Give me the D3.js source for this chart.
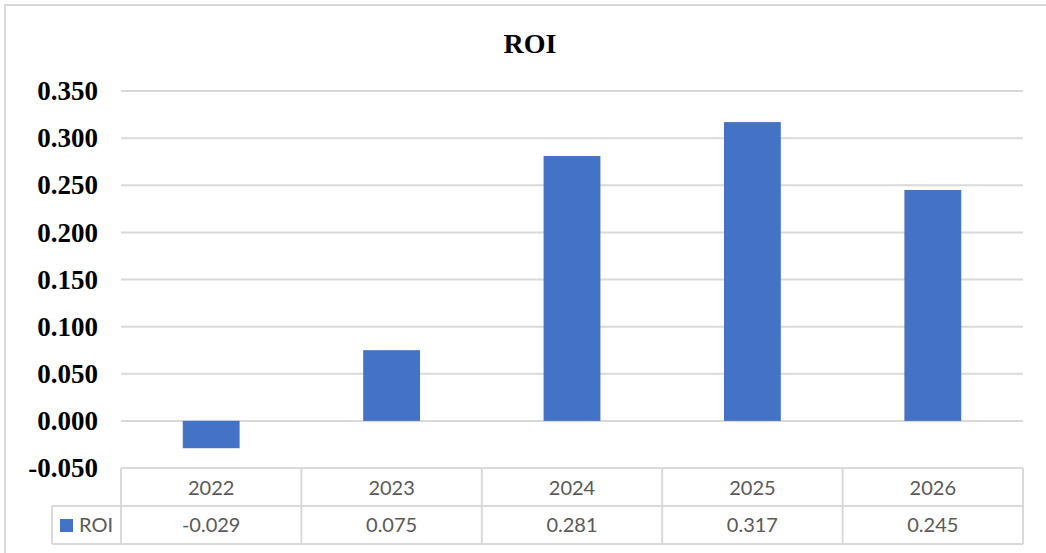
<!DOCTYPE html>
<html>
<head>
<meta charset="utf-8">
<script src="https://cdn.jsdelivr.net/npm/d3@7"></script>
<style>
  body { margin: 0; background: #fff; }
  svg { display: block; }
</style>
</head>
<body>
<div id="container"></div>
<script>
const width = 1046;
const height = 553;

// data
const years = ["2022", "2023", "2024", "2025", "2026"];
const roi = [-0.029, 0.075, 0.281, 0.317, 0.245];
const yTicks = [-0.05, 0, 0.05, 0.1, 0.15, 0.2, 0.25, 0.3, 0.35];
const seriesName = "ROI";

const plot = { left: 121, right: 1023, top: 91, bottom: 468 };
const rowH = 38;
const legendLeft = 52;
const grid = "#d9d9d9";
const textCol = "#595959";
const barCol = "#4472c4";

const svg = d3.select("#container").append("svg")
  .attr("width", width)
  .attr("height", height);

// chart border (runs off the picture at right and bottom)
svg.append("rect")
  .attr("x", 5).attr("y", 5)
  .attr("width", 1100).attr("height", 600)
  .attr("fill", "#fff")
  .attr("stroke", grid)
  .attr("stroke-width", 2);

//----------------------------SCALES----------------------------//
const x = d3.scaleBand().domain(years).range([plot.left, plot.right]);
const y = d3.scaleLinear().domain([-0.05, 0.35]).range([plot.bottom, plot.top]);
const barW = x.bandwidth() * 0.315;

// title
svg.append("text")
  .attr("x", 530).attr("y", 53)
  .attr("text-anchor", "middle")
  .style("font-family", "'Liberation Serif', 'Times New Roman', serif")
  .style("font-weight", "bold")
  .style("font-size", "28px")
  .attr("fill", "#000")
  .text("ROI");

// gridlines
svg.append("g")
  .selectAll("line")
  .data(yTicks.filter(t => t > -0.05))
  .enter().append("line")
  .attr("x1", plot.left).attr("x2", plot.right)
  .attr("y1", d => y(d)).attr("y2", d => y(d))
  .attr("stroke", grid)
  .attr("stroke-width", 2);

// y axis labels
const yaxis = d3.axisLeft(y)
  .tickValues(yTicks)
  .tickFormat(d3.format(".3f"))
  .tickSize(0)
  .tickPadding(23);

const ya = svg.append("g")
  .attr("transform", "translate(" + plot.left + ",0)")
  .call(yaxis);
ya.select(".domain").remove();
ya.selectAll("text")
  .style("font-family", "'Liberation Serif', 'Times New Roman', serif")
  .style("font-weight", "bold")
  .style("font-size", "27px")
  .attr("fill", "#000")
  .text(d => d3.format(".3f")(d).replace("−", "-"));

// bars
svg.append("g")
  .selectAll("rect")
  .data(roi)
  .enter().append("rect")
  .attr("x", (d, i) => x(years[i]) + (x.bandwidth() - barW) / 2)
  .attr("y", d => y(Math.max(0, d)))
  .attr("width", barW)
  .attr("height", d => Math.abs(y(d) - y(0)))
  .attr("fill", barCol);

//-----------------------------DATA TABLE-----------------------------//
const t = svg.append("g")
  .attr("stroke", grid)
  .attr("stroke-width", 2)
  .attr("fill", "none");

const tableTop = plot.bottom;
// horizontal lines
t.append("line").attr("x1", plot.left).attr("x2", plot.right)
  .attr("y1", tableTop).attr("y2", tableTop);
t.append("line").attr("x1", legendLeft).attr("x2", plot.right)
  .attr("y1", tableTop + rowH).attr("y2", tableTop + rowH);
t.append("line").attr("x1", legendLeft).attr("x2", plot.right)
  .attr("y1", tableTop + 2 * rowH).attr("y2", tableTop + 2 * rowH);
// vertical lines
t.selectAll("line.v")
  .data(years.concat(["end"]))
  .enter().append("line")
  .attr("class", "v")
  .attr("x1", (d, i) => plot.left + i * x.bandwidth())
  .attr("x2", (d, i) => plot.left + i * x.bandwidth())
  .attr("y1", tableTop).attr("y2", tableTop + 2 * rowH);
t.append("line").attr("x1", legendLeft).attr("x2", legendLeft)
  .attr("y1", tableTop + rowH).attr("y2", tableTop + 2 * rowH);

const cellFont = "Lato, 'Noto Sans', sans-serif";

svg.append("g").selectAll("text")
  .data(years)
  .enter().append("text")
  .attr("x", d => x(d) + x.bandwidth() / 2)
  .attr("y", tableTop + 27)
  .attr("text-anchor", "middle")
  .style("font-family", cellFont)
  .style("font-size", "20px")
  .attr("fill", textCol)
  .text(d => d);

svg.append("g").selectAll("text")
  .data(roi)
  .enter().append("text")
  .attr("x", (d, i) => x(years[i]) + x.bandwidth() / 2)
  .attr("y", tableTop + rowH + 26)
  .attr("text-anchor", "middle")
  .style("font-family", cellFont)
  .style("font-size", "20px")
  .attr("fill", textCol)
  .text(d => d3.format(".3f")(d).replace("−", "-"));

// legend key
svg.append("rect")
  .attr("x", 60).attr("y", tableTop + rowH + 13)
  .attr("width", 13).attr("height", 13)
  .attr("fill", barCol);
svg.append("text")
  .attr("x", 79).attr("y", tableTop + rowH + 26)
  .style("font-family", cellFont)
  .style("font-size", "20px")
  .attr("fill", textCol)
  .text(seriesName);
</script>
</body>
</html>
